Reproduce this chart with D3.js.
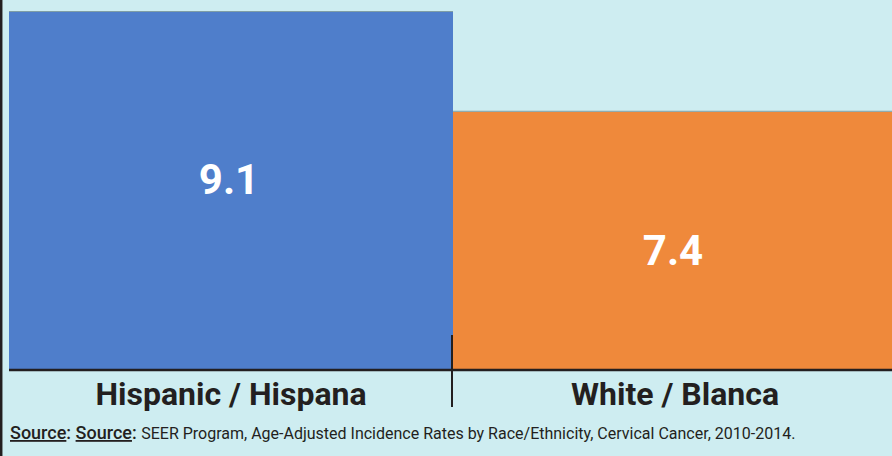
<!DOCTYPE html>
<html>
<head>
<meta charset="utf-8">
<script src="https://cdn.jsdelivr.net/npm/d3@7"></script>
<style>
  html, body { margin: 0; padding: 0; background: #ceedf1; }
  svg { display: block; }
</style>
</head>
<body>
<svg id="chart" width="892" height="456"></svg>
<script>
const categories = ["Hispanic / Hispana", "White / Blanca"];
const values = [9.1, 7.4];
const valueLabels = ["9.1", "7.4"];
const yDomain = [3, 9.1];
const sourceLabel = "Source:";
const sourceText = "SEER Program, Age-Adjusted Incidence Rates by Race/Ethnicity, Cervical Cancer, 2010-2014.";
const colors = ["#4f7ecb", "#ef893b"];

const W = 892, H = 456;
const svg = d3.select("#chart");
svg.append("rect").attr("width", W).attr("height", H).attr("fill", "#ceedf1");

const baseY = 370, topY = 12;
const x = d3.scaleBand().domain(categories).range([9, 897]).padding(0);
const y = d3.scaleLinear().domain(yDomain).range([baseY, topY]);

const data = categories.map((c, i) => ({ c, v: values[i], label: valueLabels[i], color: colors[i] }));

svg.append("g").selectAll("rect").data(data).join("rect")
  .attr("x", d => x(d.c))
  .attr("y", d => y(d.v))
  .attr("width", x.bandwidth())
  .attr("height", d => baseY - y(d.v))
  .attr("fill", d => d.color);

// subtle top edge
svg.append("g").selectAll("line").data(data).join("line")
  .attr("x1", d => x(d.c)).attr("x2", d => x(d.c) + x.bandwidth())
  .attr("y1", d => y(d.v) - 0.5).attr("y2", d => y(d.v) - 0.5)
  .attr("stroke", "#7f9ea6").attr("stroke-width", 1);

// value labels
svg.append("g").selectAll("text").data(data).join("text")
  .attr("x", d => x(d.c) + x.bandwidth() / 2 - 2)
  .attr("y", d => 185.5 + 0.71 * y(d.v))
  .attr("text-anchor", "middle")
  .attr("font-family", "Roboto, sans-serif")
  .attr("font-weight", 700)
  .attr("font-size", 42)
  .attr("fill", "#ffffff")
  .text(d => d.label);

// x axis baseline
const xAxis = d3.axisBottom(x).tickSize(0).tickFormat(d => d);
const gx = svg.append("g").attr("transform", `translate(0,${baseY})`).call(xAxis);
gx.select(".domain").attr("d", `M9,0H${W}`).attr("stroke", "#231f20").attr("stroke-width", 2.5);
gx.selectAll(".tick text")
  .attr("dy", 0).attr("y", 35)
  .attr("font-family", "Roboto, sans-serif")
  .attr("font-weight", 700)
  .attr("font-size", 32)
  .attr("fill", "#231f20");

// divider tick between categories
svg.append("line")
  .attr("x1", x(categories[1]) - 1).attr("x2", x(categories[1]) - 1)
  .attr("y1", baseY - 35).attr("y2", baseY + 37)
  .attr("stroke", "#231f20").attr("stroke-width", 2);

// left axis line
svg.append("line")
  .attr("x1", 1.2).attr("x2", 1.2).attr("y1", 0).attr("y2", H)
  .attr("stroke", "#231f20").attr("stroke-width", 2.5);

// source
const src = svg.append("text")
  .attr("x", 10).attr("y", 439)
  .attr("font-family", "Roboto, sans-serif")
  .attr("font-size", 16)
  .attr("fill", "#231f20");
const lab = sourceLabel.replace(":", "");
src.append("tspan").attr("font-size", 18).attr("font-weight", 500).attr("text-decoration", "underline").text(lab);
src.append("tspan").attr("font-size", 18).attr("font-weight", 500).text(": ");
src.append("tspan").attr("font-size", 18).attr("font-weight", 500).attr("text-decoration", "underline").text(lab);
src.append("tspan").attr("font-size", 18).attr("font-weight", 500).text(": ");
src.append("tspan").attr("font-weight", 400).text(sourceText);
</script>
</body>
</html>
